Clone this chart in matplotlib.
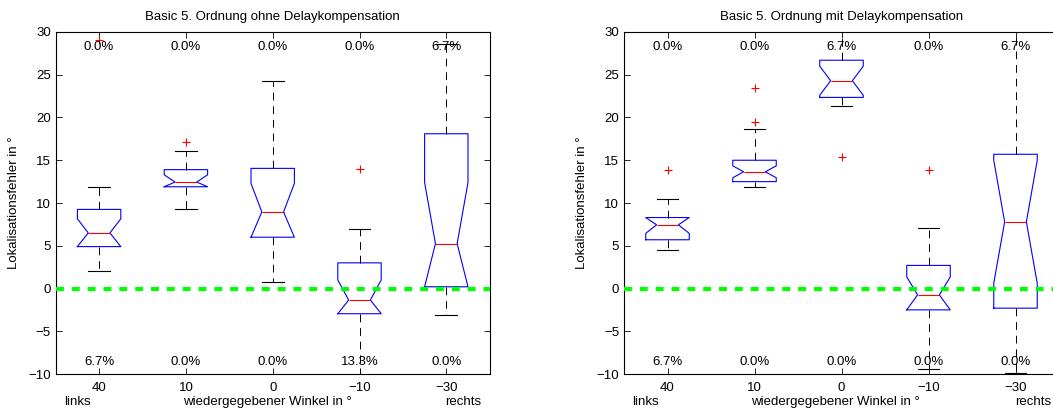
import numpy as np
import matplotlib
matplotlib.use('Agg')
import matplotlib.pyplot as plt

plt.rcParams['font.family'] = ['Liberation Sans', 'DejaVu Sans']
plt.rcParams['font.size'] = 9.5

winkel = ['40', '10', '0', '\u221210', '\u221230']

# Basic 5. Ordnung ohne Delaykompensation
ohne_med = [6.5, 12.45, 8.95, -1.35, 5.25]
ohne_q1 = [4.9, 11.9, 6.0, -2.95, 0.2]
ohne_q3 = [9.25, 13.9, 14.05, 3.0, 18.1]
ohne_cilo = [4.9, 11.9, 6.0, -2.95, 0.2]
ohne_cihi = [8.15, 13.3, 12.3, 1.0, 12.4]
ohne_wlo = [2.1, 9.25, 0.8, -12.0, -3.1]
ohne_whi = [11.9, 16.05, 24.3, 7.0, 28.55]
ohne_fliers = [[29.05], [17.15], [], [14.0], []]
ohne_oben = ['0.0%', '0.0%', '0.0%', '0.0%', '6.7%']
ohne_unten = ['6.7%', '0.0%', '0.0%', '13.3%', '0.0%']

# Basic 5. Ordnung mit Delaykompensation
mit_med = [7.45, 13.65, 24.3, -0.75, 7.8]
mit_q1 = [5.7, 12.5, 22.35, -2.5, -2.3]
mit_q3 = [8.3, 15.0, 26.7, 2.7, 15.7]
mit_cilo = [6.45, 12.95, 22.6, -2.5, 0.6]
mit_cihi = [8.3, 14.35, 26.0, 1.35, 15.0]
mit_wlo = [4.55, 11.9, 21.35, -9.45, -9.85]
mit_whi = [10.45, 18.6, 31.0, 7.1, 31.0]
mit_fliers = [[13.85], [19.45, 23.45], [15.4], [13.85], []]
mit_oben = ['0.0%', '0.0%', '6.7%', '0.0%', '6.7%']
mit_unten = ['6.7%', '0.0%', '0.0%', '0.0%', '0.0%']


def stats(med, q1, q3, cilo, cihi, wlo, whi, fliers):
    out = []
    for i in range(len(med)):
        out.append(dict(med=med[i], q1=q1[i], q3=q3[i], cilo=cilo[i], cihi=cihi[i],
                        whislo=wlo[i], whishi=whi[i], fliers=np.array(fliers[i])))
    return out


def boxplot(ax, st, oben, unten, titel):
    pos = np.arange(1, len(st) + 1)
    ax.bxp(st, positions=pos, widths=0.5, shownotches=True,
           boxprops=dict(color='blue', linewidth=0.8),
           medianprops=dict(color='red', linewidth=0.8),
           whiskerprops=dict(color='black', linewidth=0.7, linestyle=(0, (8, 6))),
           capprops=dict(color='black', linewidth=0.8),
           flierprops=dict(marker='+', markeredgecolor='red', markersize=6,
                           linestyle='none', markeredgewidth=0.8))
    ax.axhline(0, color=(0, 1, 0), lw=3, dashes=(1.9, 1.9), zorder=5)
    for i in range(len(pos)):
        ax.text(pos[i], 28.3, oben[i], ha='center', va='center')
        ax.text(pos[i], -8.6, unten[i], ha='center', va='center')
    ax.set_xlim(0.5, len(pos) + 0.5)
    ax.set_ylim(-10, 30)
    ax.set_yticks(np.arange(-10, 31, 5))
    ax.set_yticklabels([str(v).replace('-', '\u2212') for v in range(-10, 31, 5)])
    ax.set_xticks(pos)
    ax.set_xticklabels(winkel)
    ax.tick_params(direction='in', top=True, right=True, length=4, width=0.6)
    ax.tick_params(axis='x', pad=6)
    ax.tick_params(axis='y', pad=3.5)
    ax.set_ylabel('Lokalisationsfehler in \u00b0')
    ax.yaxis.set_label_coords(-0.082, 0.5)
    ax.text(0.5, 1.045, titel, transform=ax.transAxes, ha='center', va='center')
    ax.text(0.049, -0.082, 'links', transform=ax.transAxes, ha='center', va='center')
    ax.text(0.487, -0.082, 'wiedergegebener Winkel in \u00b0', transform=ax.transAxes,
            ha='center', va='center')
    ax.text(0.94, -0.082, 'rechts', transform=ax.transAxes, ha='center', va='center')
    for s in ax.spines.values():
        s.set_linewidth(0.8)


fig = plt.figure(figsize=(10.53, 4.11), dpi=100)
a1 = fig.add_axes([55.7 / 1053, 37 / 411, 434 / 1053, 342 / 411])
a2 = fig.add_axes([624 / 1053, 37 / 411, 435 / 1053, 342 / 411])

boxplot(a1, stats(ohne_med, ohne_q1, ohne_q3, ohne_cilo, ohne_cihi, ohne_wlo, ohne_whi, ohne_fliers),
        ohne_oben, ohne_unten, 'Basic 5. Ordnung ohne Delaykompensation')
boxplot(a2, stats(mit_med, mit_q1, mit_q3, mit_cilo, mit_cihi, mit_wlo, mit_whi, mit_fliers),
        mit_oben, mit_unten, 'Basic 5. Ordnung mit Delaykompensation')

fig.savefig('out.png', dpi=100)
